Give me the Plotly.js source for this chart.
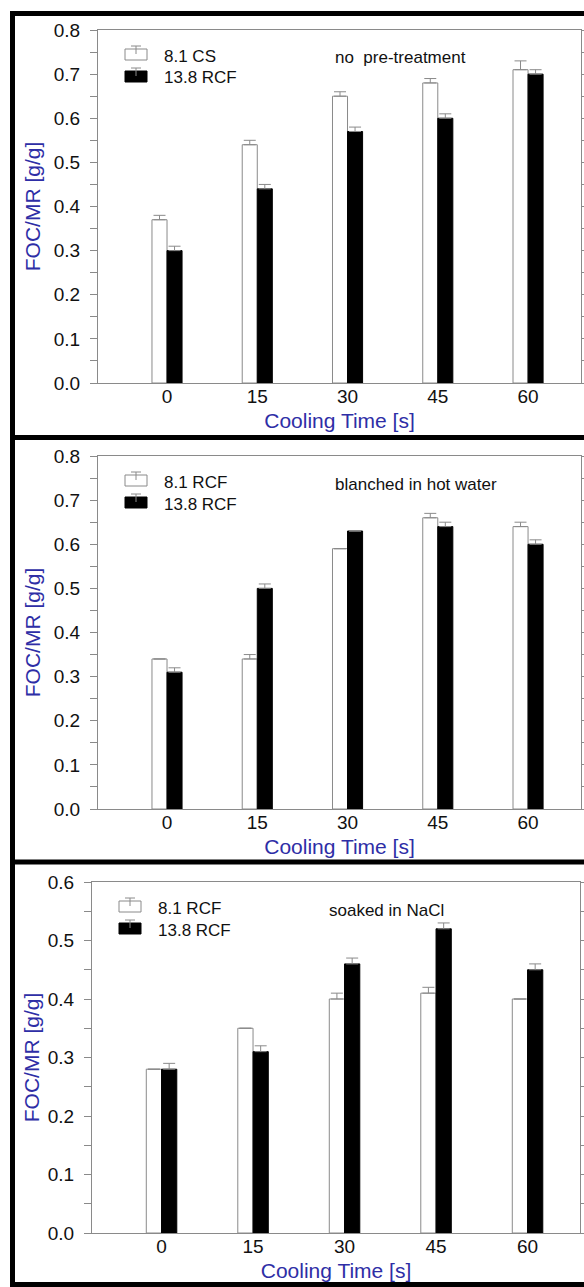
<!DOCTYPE html>
<html>
<head>
<meta charset="utf-8">
<script src="https://cdn.plot.ly/plotly-3.0.1.min.js"></script>
<style>
html,body{margin:0;padding:0;background:#fff;}
#chart{width:584px;height:1287px;}
</style>
</head>
<body>
<div id="chart"></div>
<script>
// ---------- data ----------
const coolingTime = [0, 15, 30, 45, 60];
const tickLabels = ['0', '15', '30', '45', '60'];

const panelLabels = ['no  pre-treatment', 'blanched in hot water', 'soaked in NaCl'];
const seriesNamesNoPre = ['8.1 CS', '13.8 RCF'];
const seriesNamesBlanched = ['8.1 RCF', '13.8 RCF'];
const seriesNamesNaCl = ['8.1 RCF', '13.8 RCF'];

const noPre81 = [0.37, 0.54, 0.65, 0.68, 0.71];
const noPre81Err = [0.01, 0.01, 0.01, 0.01, 0.02];
const noPre138 = [0.30, 0.44, 0.57, 0.60, 0.70];
const noPre138Err = [0.01, 0.01, 0.01, 0.01, 0.01];

const blanched81 = [0.34, 0.34, 0.59, 0.66, 0.64];
const blanched81Err = [0, 0.01, 0, 0.01, 0.01];
const blanched138 = [0.31, 0.50, 0.63, 0.64, 0.60];
const blanched138Err = [0.01, 0.01, 0, 0.01, 0.01];

const nacl81 = [0.28, 0.35, 0.40, 0.41, 0.40];
const nacl81Err = [0, 0, 0.01, 0.01, 0];
const nacl138 = [0.28, 0.31, 0.46, 0.52, 0.45];
const nacl138Err = [0.01, 0.01, 0.01, 0.01, 0.01];

const yMax = [0.8, 0.8, 0.6];
const xTitle = 'Cooling Time [s]';
const yTitle = 'FOC/MR [g/g]';

// ---------- layout helpers ----------
const W = 584, H = 1287;
const fx = p => p / W;
const fy = p => 1 - p / H;
const FONT = 'Liberation Sans, Arial, Helvetica, sans-serif';
const AXIS_GRAY = '#8a8a8a';
const TITLE_BLUE = '#2e2ea6';

// plot areas in pixels: left, right, top, bottom, x range, legend offset, y-title standoff
const boxes = [
  {l: 98, r: 581, t: 30, b: 383, xr: [-11.47, 68.8], lg: 27, ys: 7},
  {l: 98, r: 581, t: 456, b: 809, xr: [-11.47, 68.8], lg: 27, ys: 7},
  {l: 92, r: 580, t: 882, b: 1233, xr: [-11.4, 68.6], lg: 27, ys: 2}
];

const panels = [
  {names: seriesNamesNoPre, a: noPre81, ae: noPre81Err, b: noPre138, be: noPre138Err},
  {names: seriesNamesBlanched, a: blanched81, ae: blanched81Err, b: blanched138, be: blanched138Err},
  {names: seriesNamesNaCl, a: nacl81, ae: nacl81Err, b: nacl138, be: nacl138Err}
];

const traces = [];
const layout = {
  width: W, height: H,
  margin: {l: 0, r: 0, t: 0, b: 0},
  paper_bgcolor: '#fff',
  plot_bgcolor: '#fff',
  showlegend: false,
  barmode: 'overlay',
  font: {family: FONT, size: 19, color: '#111'},
  shapes: [],
  annotations: []
};

const BW = 2.5; // bar width in x units

panels.forEach((p, i) => {
  const n = i + 1;
  const xa = 'x' + (n === 1 ? '' : n);
  const ya = 'y' + (n === 1 ? '' : n);
  const bx = boxes[i];
  const zeros = coolingTime.map(() => 0);

  traces.push({
    type: 'bar', name: p.names[0], x: coolingTime, y: p.a,
    xaxis: xa, yaxis: ya, width: BW, offset: -BW,
    marker: {color: '#ffffff', line: {color: AXIS_GRAY, width: 1}},
    error_y: {type: 'data', array: p.ae, arrayminus: zeros, symmetric: false,
              color: AXIS_GRAY, thickness: 1, width: 6}
  });
  traces.push({
    type: 'bar', name: p.names[1], x: coolingTime, y: p.b,
    xaxis: xa, yaxis: ya, width: BW, offset: 0,
    marker: {color: '#000000', line: {color: '#000000', width: 1}},
    error_y: {type: 'data', array: p.be, arrayminus: zeros, symmetric: false,
              color: AXIS_GRAY, thickness: 1, width: 6}
  });

  const xKey = 'xaxis' + (n === 1 ? '' : n);
  const yKey = 'yaxis' + (n === 1 ? '' : n);
  layout[xKey] = {
    domain: [fx(bx.l), fx(bx.r)],
    anchor: ya,
    range: bx.xr,
    tickmode: 'array', tickvals: coolingTime, ticktext: tickLabels,
    ticks: '', ticklen: 0, ticklabelstandoff: -4,
    showline: true, linecolor: AXIS_GRAY, linewidth: 1, mirror: true,
    showgrid: false, zeroline: false,
    tickfont: {family: FONT, size: 19, color: '#111'},
    title: {text: xTitle, standoff: 7, font: {family: FONT, size: 21, color: TITLE_BLUE}}
  };
  layout[yKey] = {
    domain: [fy(bx.b), fy(bx.t)],
    anchor: xa,
    range: [0, yMax[i]],
    dtick: 0.1, tickformat: '.1f',
    ticks: 'outside', ticklen: 7, tickcolor: AXIS_GRAY, tickwidth: 1,
    ticklabelstandoff: 6,
    minor: {dtick: 0.05, ticks: 'outside', ticklen: 7, tickcolor: AXIS_GRAY, tickwidth: 1},
    showline: true, linecolor: AXIS_GRAY, linewidth: 1, mirror: 'ticks',
    showgrid: false, zeroline: false,
    tickfont: {family: FONT, size: 19, color: '#111'},
    title: {text: yTitle, standoff: bx.ys, font: {family: FONT, size: 21, color: TITLE_BLUE}}
  };

  // custom legend symbols (box + error cap) and labels
  const L = bx.l, T = bx.t;
  const items = [
    {fill: '#ffffff', line: AXIS_GRAY, dy: 0, label: p.names[0]},
    {fill: '#000000', line: '#000000', dy: 22, label: p.names[1]}
  ];
  items.forEach(it => {
    const top = T + 19 + it.dy, bot = T + 30 + it.dy;
    const x0 = L + bx.lg, x1 = x0 + 22, cx = x0 + 11;
    layout.shapes.push({type: 'rect', xref: 'paper', yref: 'paper',
      x0: fx(x0), x1: fx(x1), y0: fy(bot), y1: fy(top),
      fillcolor: it.fill, line: {color: it.line, width: 1}});
    layout.shapes.push({type: 'line', xref: 'paper', yref: 'paper',
      x0: fx(cx), x1: fx(cx), y0: fy(top + 5), y1: fy(top - 3),
      line: {color: AXIS_GRAY, width: 1}});
    layout.shapes.push({type: 'line', xref: 'paper', yref: 'paper',
      x0: fx(cx - 5), x1: fx(cx + 5), y0: fy(top - 3), y1: fy(top - 3),
      line: {color: AXIS_GRAY, width: 1}});
    layout.annotations.push({xref: 'paper', yref: 'paper', x: fx(x0 + 37), y: fy(top + 7),
      xanchor: 'left', yanchor: 'middle', showarrow: false, text: it.label,
      font: {family: FONT, size: 17, color: '#111'}});
  });
  layout.annotations.push({xref: 'paper', yref: 'paper', x: fx(L + 235), y: fy(T + 28),
    xanchor: 'left', yanchor: 'middle', showarrow: false, text: panelLabels[i],
    font: {family: FONT, size: 17, color: '#111'}});
});

// thick black panel frames
const frameLines = [13.5, 437.5, 862, 1284.5];
layout.shapes.push({type: 'line', xref: 'paper', yref: 'paper',
  x0: fx(12.5), x1: fx(12.5), y0: fy(11), y1: fy(1287), line: {color: '#000', width: 5}});
frameLines.forEach(y => {
  layout.shapes.push({type: 'line', xref: 'paper', yref: 'paper',
    x0: fx(10), x1: fx(600), y0: fy(y), y1: fy(y), line: {color: '#000', width: 5}});
});

Plotly.newPlot('chart', traces, layout, {staticPlot: true, displayModeBar: false});
</script>
</body>
</html>
